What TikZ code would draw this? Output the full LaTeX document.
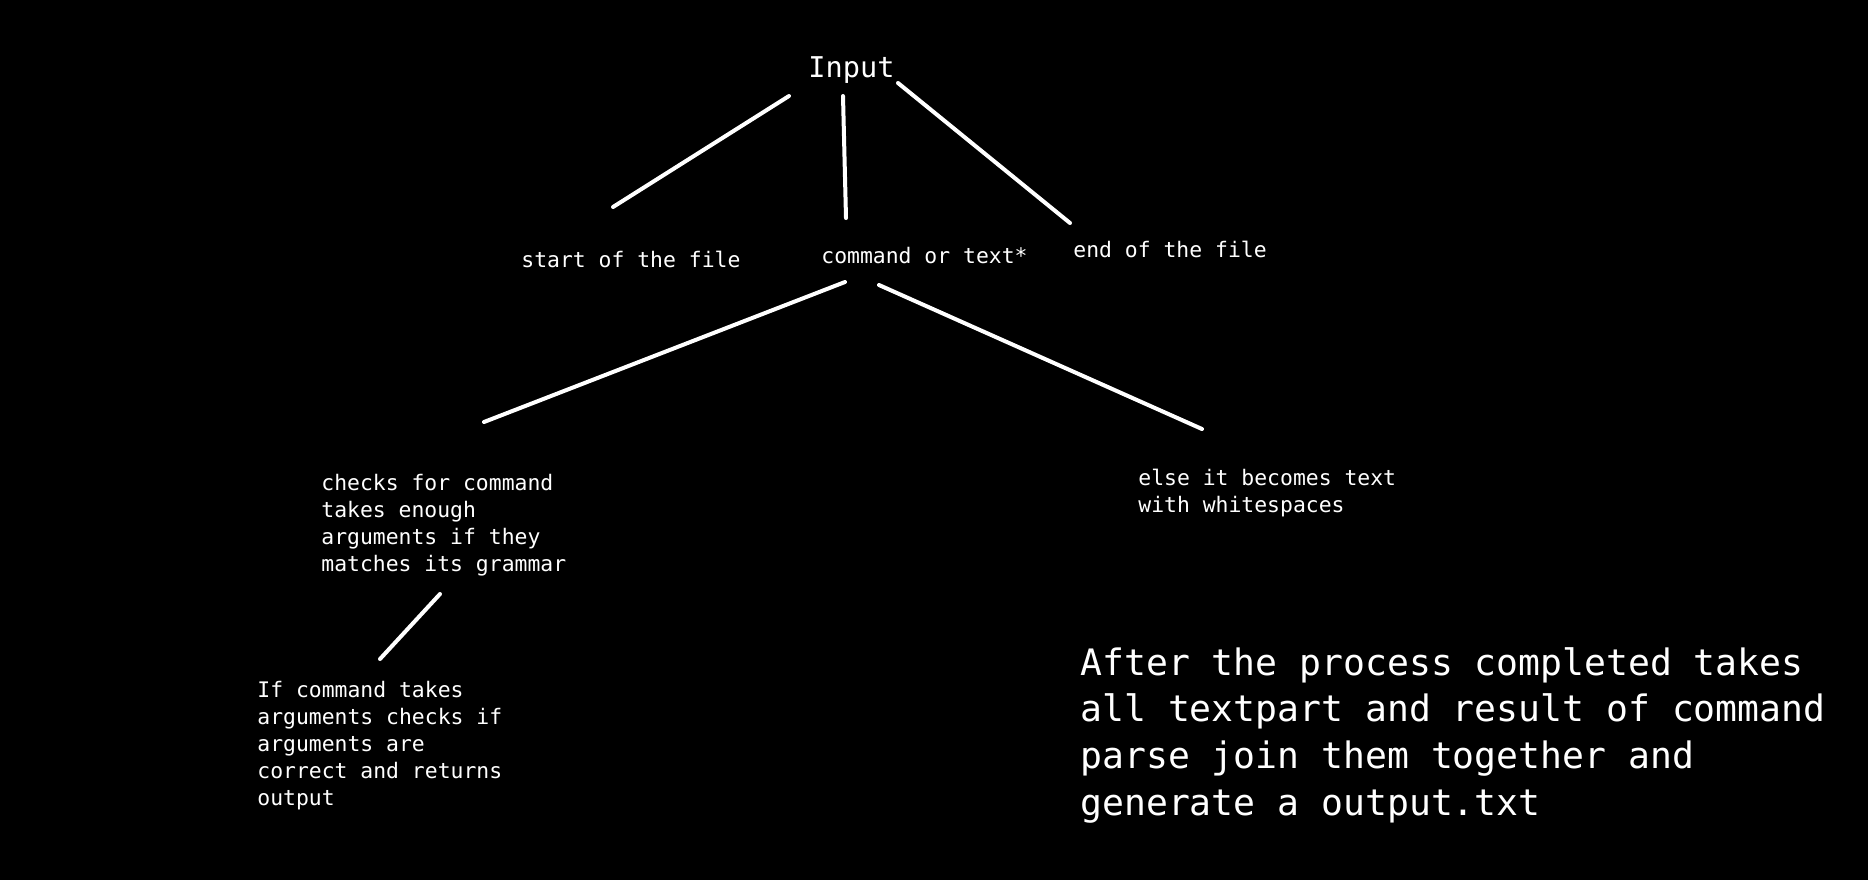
\documentclass[tikz,border=0pt]{standalone}
\usepackage{fontspec}
\setmonofont{DejaVu Sans Mono}
\tikzset{edge/.style={draw=white,line width=2pt},
  lbl/.style={text=white,inner sep=0pt,font=\ttfamily\fontsize{10.7}{13.45}\selectfont},
  biglbl/.style={text=white,inner sep=0pt,font=\ttfamily\fontsize{18.2}{23.35}\selectfont}}
\begin{document}
\begin{tikzpicture}[line cap=round,line join=round,x=0.5pt,y=-0.5pt]
		\fill[black] (0,0) rectangle (1868,880);
		% labels
		\node[lbl,anchor=base west,font=\ttfamily\fontsize{14.3}{17}\selectfont] (input) at (808,77) {Input};
		\node[lbl,anchor=base west] (start) at (521,267) {start of the file};
		\node[lbl,anchor=base west] (cmd) at (821,263) {command or text*};
		\node[lbl,anchor=base west] (end) at (1073,257) {end of the file};
		\node[lbl,anchor=north west,align=left] (check) at (321,474) {checks for command\\takes enough\\arguments if they\\matches its grammar};
		\node[lbl,anchor=north west,align=left] (else) at (1138,469) {else it becomes text\\with whitespaces};
		\node[lbl,anchor=north west,align=left] (args) at (257,681) {If command takes\\arguments checks if\\arguments are\\correct and returns\\output};
		\node[biglbl,anchor=north west,align=left] (after) at (1080,647) {After the process completed takes\\all textpart and result of command\\parse join them together and\\generate a output.txt};
		% line ends
		\coordinate (input-l) at (789,96);
		\coordinate (input-m) at (843,96);
		\coordinate (input-r) at (898,83);
		\coordinate (start-t) at (613,207);
		\coordinate (cmd-t) at (846,218);
		\coordinate (end-t) at (1070,223);
		\coordinate (cmd-l) at (845,282);
		\coordinate (cmd-r) at (879,285);
		\coordinate (check-t) at (484,422);
		\coordinate (else-t) at (1202,429);
		\coordinate (check-b) at (440,594);
		\coordinate (args-t) at (380,659);
		% tree
		\draw[edge] (input-l)-- (start-t);
		\draw[edge] (input-m)-- (cmd-t);
		\draw[edge] (input-r)-- (end-t);
		\draw[edge] (cmd-l)-- (check-t);
		\draw[edge] (cmd-r)-- (else-t);
		\draw[edge] (check-b)-- (args-t);
\end{tikzpicture}
\end{document}
